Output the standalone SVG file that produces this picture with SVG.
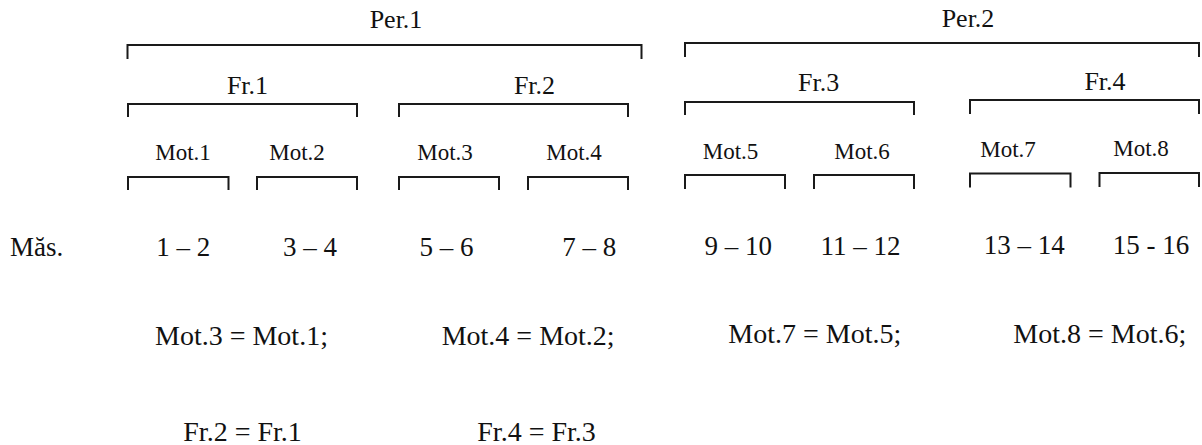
<svg xmlns="http://www.w3.org/2000/svg" width="1202" height="445" viewBox="0 0 1202 445">
<style>
.br{fill:none;stroke:#1a1a1a;stroke-width:2;stroke-linejoin:miter}
.t{font-family:'Liberation Serif','Times New Roman','DejaVu Serif',serif;fill:#111}
.per{font-size:26px;text-anchor:middle}
.fr{font-size:26px;text-anchor:middle}
.mot{font-size:23px;text-anchor:middle}
.num{font-size:27px;text-anchor:middle}
.eq{font-size:28px}
</style>
<rect width="1202" height="445" fill="#ffffff"/>
<g class="t">
<g id="per1"><text class="per" x="396" y="28">Per.1</text><path class="br" d="M127.5,59 V45 H641.5 V59"/></g>
<g id="per2"><text class="per" x="968" y="27">Per.2</text><path class="br" d="M685,57 V43 H1199 V57"/></g>
<g id="fr1"><text class="fr" x="247.5" y="94">Fr.1</text><path class="br" d="M128,117 V104 H357 V117"/></g>
<g id="fr2"><text class="fr" x="534.5" y="94">Fr.2</text><path class="br" d="M399,117 V104 H628 V117"/></g>
<g id="fr3"><text class="fr" x="818.7" y="91">Fr.3</text><path class="br" d="M685,115 V102 H914 V115"/></g>
<g id="fr4"><text class="fr" x="1105" y="90">Fr.4</text><path class="br" d="M970,114 V100 H1199 V114"/></g>
<g id="mot1"><text class="mot" x="183" y="160">Mot.1</text><path class="br" d="M128,190 V177 H228.5 V190"/></g>
<g id="mot2"><text class="mot" x="297" y="160">Mot.2</text><path class="br" d="M257,190 V177 H357 V190"/></g>
<g id="mot3"><text class="mot" x="445" y="160">Mot.3</text><path class="br" d="M399,190 V177 H499 V190"/></g>
<g id="mot4"><text class="mot" x="574" y="160">Mot.4</text><path class="br" d="M528,190 V177 H628 V190"/></g>
<g id="mot5"><text class="mot" x="730.5" y="158.5">Mot.5</text><path class="br" d="M685,189 V175 H785 V189"/></g>
<g id="mot6"><text class="mot" x="862" y="158.5">Mot.6</text><path class="br" d="M814,189 V175 H914 V189"/></g>
<g id="mot7"><text class="mot" x="1008" y="157">Mot.7</text><path class="br" d="M970,187.5 V173.5 H1070.5 V187.5"/></g>
<g id="mot8"><text class="mot" x="1141" y="156">Mot.8</text><path class="br" d="M1099.5,187 V173 H1199 V187"/></g>
<g id="measures">
<text class="num" x="10" y="256" style="text-anchor:start">Măs.</text>
<text class="num" x="183.3" y="256">1 – 2</text>
<text class="num" x="310" y="256">3 – 4</text>
<text class="num" x="446.6" y="256">5 – 6</text>
<text class="num" x="589.3" y="256">7 – 8</text>
<text class="num" x="738.2" y="255">9 – 10</text>
<text class="num" x="860.5" y="255">11 – 12</text>
<text class="num" x="1024.2" y="254">13 – 14</text>
<text class="num" x="1150.9" y="254">15 - 16</text>
</g>
<g id="equalities">
<text class="eq" x="155" y="345">Mot.3 = Mot.1;</text>
<text class="eq" x="441.7" y="345">Mot.4 = Mot.2;</text>
<text class="eq" x="728.3" y="343">Mot.7 = Mot.5;</text>
<text class="eq" x="1013.3" y="343">Mot.8 = Mot.6;</text>
<text class="eq" x="183.3" y="441">Fr.2 = Fr.1</text>
<text class="eq" x="477.3" y="441">Fr.4 = Fr.3</text>
</g>
<g id="connectors"></g>
</g>
</svg>
